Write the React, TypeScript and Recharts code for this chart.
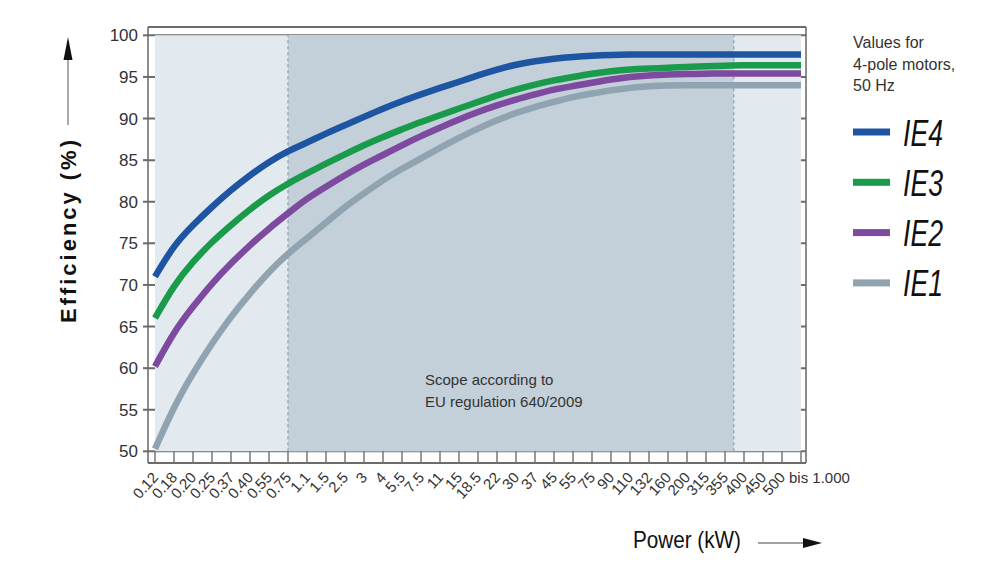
import { LineChart, Line, XAxis, YAxis, CartesianGrid, ReferenceArea, ReferenceLine, Legend } from "recharts";

// motor power classes (kW) along the x axis
const powerLabels = ["0.12", "0.18", "0.20", "0.25", "0.37", "0.40", "0.55", "0.75", "1.1", "1.5", "2.5", "3", "4", "5.5", "7.5", "11", "15", "18.5", "22", "30", "37", "45", "55", "75", "90", "110", "132", "160", "200", "315", "355", "400", "450", "500", "bis 1.000"];
const powerKw = [0.12, 0.18, 0.2, 0.25, 0.37, 0.4, 0.55, 0.75, 1.1, 1.5, 2.5, 3, 4, 5.5, 7.5, 11, 15, 18.5, 22, 30, 37, 45, 55, 75, 90, 110, 132, 160, 200, 315, 355, 400, 450, 500, 1000];

// efficiency (%) per class
const ie4 = [71.0, 74.8, 77.2, 79.4, 81.4, 83.2, 84.8, 86.1, 87.1, 88.2, 89.2, 90.2, 91.2, 92.1, 92.9, 93.7, 94.4, 95.2, 95.9, 96.5, 96.9, 97.2, 97.4, 97.55, 97.65, 97.7, 97.7, 97.7, 97.7, 97.7, 97.7, 97.7, 97.7, 97.7, 97.7];
const ie3 = [66.0, 70.0, 72.8, 75.2, 77.2, 79.1, 80.8, 82.2, 83.4, 84.6, 85.7, 86.8, 87.8, 88.7, 89.6, 90.4, 91.2, 92.0, 92.8, 93.5, 94.1, 94.6, 95.0, 95.4, 95.7, 95.9, 96.0, 96.1, 96.2, 96.3, 96.35, 96.4, 96.4, 96.4, 96.4];
const ie2 = [60.2, 64.4, 67.4, 70.2, 72.6, 74.8, 76.8, 78.6, 80.4, 81.8, 83.2, 84.5, 85.6, 86.8, 87.9, 88.9, 89.9, 90.8, 91.6, 92.3, 92.9, 93.5, 93.9, 94.3, 94.7, 95.0, 95.2, 95.3, 95.35, 95.4, 95.4, 95.4, 95.4, 95.4, 95.4];
const ie1 = [50.3, 55.4, 59.4, 63.0, 66.2, 69.0, 71.6, 73.8, 75.6, 77.5, 79.4, 81.0, 82.6, 84.0, 85.2, 86.5, 87.7, 88.8, 89.8, 90.7, 91.4, 92.0, 92.6, 93.0, 93.4, 93.7, 93.9, 94.0, 94.0, 94.0, 94.0, 94.0, 94.0, 94.0, 94.0];

const yTicks = [50, 55, 60, 65, 70, 75, 80, 85, 90, 95, 100];
const scopeKw = [0.75, 375]; // EU regulation 640/2009

const series = [
  { key: "IE4", values: ie4, color: "#1d55a3" },
  { key: "IE3", values: ie3, color: "#1a9b4b" },
  { key: "IE2", values: ie2, color: "#7e4a9f" },
  { key: "IE1", values: ie1, color: "#8fa3b1" },
];

const data = powerLabels.map((label, i) => {
  const row: Record<string, number | string> = { i, label };
  series.forEach((s) => (row[s.key] = s.values[i]));
  return row;
});

// place a kW value on the class axis (log interpolation between classes)
function kwToIndex(kw: number) {
  for (let i = 0; i < powerKw.length - 1; i++) {
    if (kw >= powerKw[i] && kw <= powerKw[i + 1]) {
      return i + Math.log(kw / powerKw[i]) / Math.log(powerKw[i + 1] / powerKw[i]);
    }
  }
  return powerKw.length - 1;
}
const scopeStart = kwToIndex(scopeKw[0]);
const scopeEnd = kwToIndex(scopeKw[1]);

const FONT = "'Liberation Sans', Arial, sans-serif";

function PowerTick(props: any) {
  const { x, y, payload } = props;
  const label = powerLabels[payload.value];
  if (payload.value === powerLabels.length - 1) {
    return (
      <text x={x - 12} y={y + 32} fontSize={15} fill="#333" fontFamily={FONT}>
        {label}
      </text>
    );
  }
  const ax = x + 4;
  const ay = y + 27;
  return (
    <text x={ax} y={ay} transform={`rotate(-48 ${ax} ${ay})`} textAnchor="end" fontSize={15} fill="#333" fontFamily={FONT}>
      {label}
    </text>
  );
}

function MotorLegend(props: any) {
  const items = [...(props.payload || [])].sort((a: any, b: any) => String(b.value).localeCompare(String(a.value)));
  return (
    <svg width={150} height={300} style={{ display: "block" }}>
      <g fontFamily={FONT} fontSize={16} fill="#333">
        <text x={0} y={28}>Values for</text>
        <text x={0} y={50}>4-pole motors,</text>
        <text x={0} y={71}>50 Hz</text>
      </g>
      {items.map((p: any, k: number) => (
        <g key={p.value} transform={`translate(0, ${112 + k * 50.3})`}>
          <rect x={0} y={-3.5} width={37} height={7} fill={p.color} />
          <text x={50} y={13.5} fontFamily={FONT} fontStyle="italic" fontSize={37} fill="#111" textLength={40} lengthAdjust="spacingAndGlyphs">
            {p.value}
          </text>
        </g>
      ))}
    </svg>
  );
}

export default function App() {
  return (
    <div style={{ position: "absolute", left: 0, top: 0, width: 1003, height: 564, background: "#fff", fontFamily: FONT }}>
      <LineChart width={1003} height={564} data={data} margin={{ top: 27, right: 196, bottom: 0, left: 0 }}>
        <ReferenceArea x1={0} x2={powerLabels.length - 1} y1={50} y2={100} fill="#e3eaef" fillOpacity={1} stroke="none" />
        <ReferenceArea x1={scopeStart} x2={scopeEnd} y1={50} y2={100} fill="#c3cfd9" fillOpacity={1} stroke="none" />
        <CartesianGrid vertical={false} stroke="#6b6b6b" strokeWidth={2} />
        <ReferenceLine segment={[{ x: scopeStart, y: 50 }, { x: scopeStart, y: 100 }]} stroke="#98a9b6" strokeWidth={1.5} strokeDasharray="3 3" />
        <ReferenceLine segment={[{ x: scopeEnd, y: 50 }, { x: scopeEnd, y: 100 }]} stroke="#98a9b6" strokeWidth={1.5} strokeDasharray="3 3" />
        <XAxis
          dataKey="i"
          type="number"
          domain={[0, powerLabels.length - 1]}
          ticks={powerLabels.map((_, i) => i)}
          interval={0}
          padding={{ left: 7, right: 5 }}
          height={101}
          axisLine={false}
          tickSize={-12}
          tickMargin={0}
          tickLine={{ stroke: "#777", strokeWidth: 1.5 }}
          tick={<PowerTick />}
        />
        <YAxis
          type="number"
          domain={[48.6, 101]}
          ticks={yTicks}
          interval={0}
          allowDataOverflow
          width={148}
          tickSize={5}
          tickMargin={5}
          axisLine={{ stroke: "#666", strokeWidth: 1.5 }}
          tickLine={{ stroke: "#6b6b6b", strokeWidth: 2 }}
          tick={{ fill: "#333", fontSize: 17, fontFamily: FONT }}
        />
        <YAxis yAxisId="frame" orientation="right" type="number" domain={[48.6, 101]} width={1} tick={false} tickLine={false} axisLine={{ stroke: "#666", strokeWidth: 1.5 }} />
        {series.map((s) => (
          <Line
            key={s.key}
            dataKey={s.key}
            name={s.key}
            type="basis"
            stroke={s.color}
            strokeWidth={6.5}
            dot={false}
            activeDot={false}
            isAnimationActive={false}
          />
        ))}
        <Legend
          layout="vertical"
          align="center"
          verticalAlign="middle"
          content={<MotorLegend />}
          wrapperStyle={{ left: 853, top: 20, width: 150, height: 300 }}
        />
      </LineChart>
      <svg width={1003} height={564} style={{ position: "absolute", left: 0, top: 0, pointerEvents: "none" }}>
        <g transform="translate(76,231.5) rotate(-90)">
          <text x={0} y={0} textAnchor="middle" fontFamily={FONT} fontWeight="bold" fontSize={22} fill="#111" textLength={183} lengthAdjust="spacing">
            Efficiency (%)
          </text>
        </g>
        <line x1={68} y1={58} x2={68} y2={125} stroke="#555" strokeWidth={1} />
        <polygon points="68,37 63.5,60 72.5,60" fill="#111" />
        <text x={633} y={548} fontFamily={FONT} fontSize={24} fill="#111" textLength={108} lengthAdjust="spacingAndGlyphs">
          Power (kW)
        </text>
        <line x1={758} y1={543} x2={806} y2={543} stroke="#444" strokeWidth={1} />
        <polygon points="822,543 803,538 803,548" fill="#111" />
        <g fontFamily={FONT} fontSize={15} fill="#333">
          <text x={425} y={385}>Scope according to</text>
          <text x={425} y={407}>EU regulation 640/2009</text>
        </g>
      </svg>
    </div>
  );
}
